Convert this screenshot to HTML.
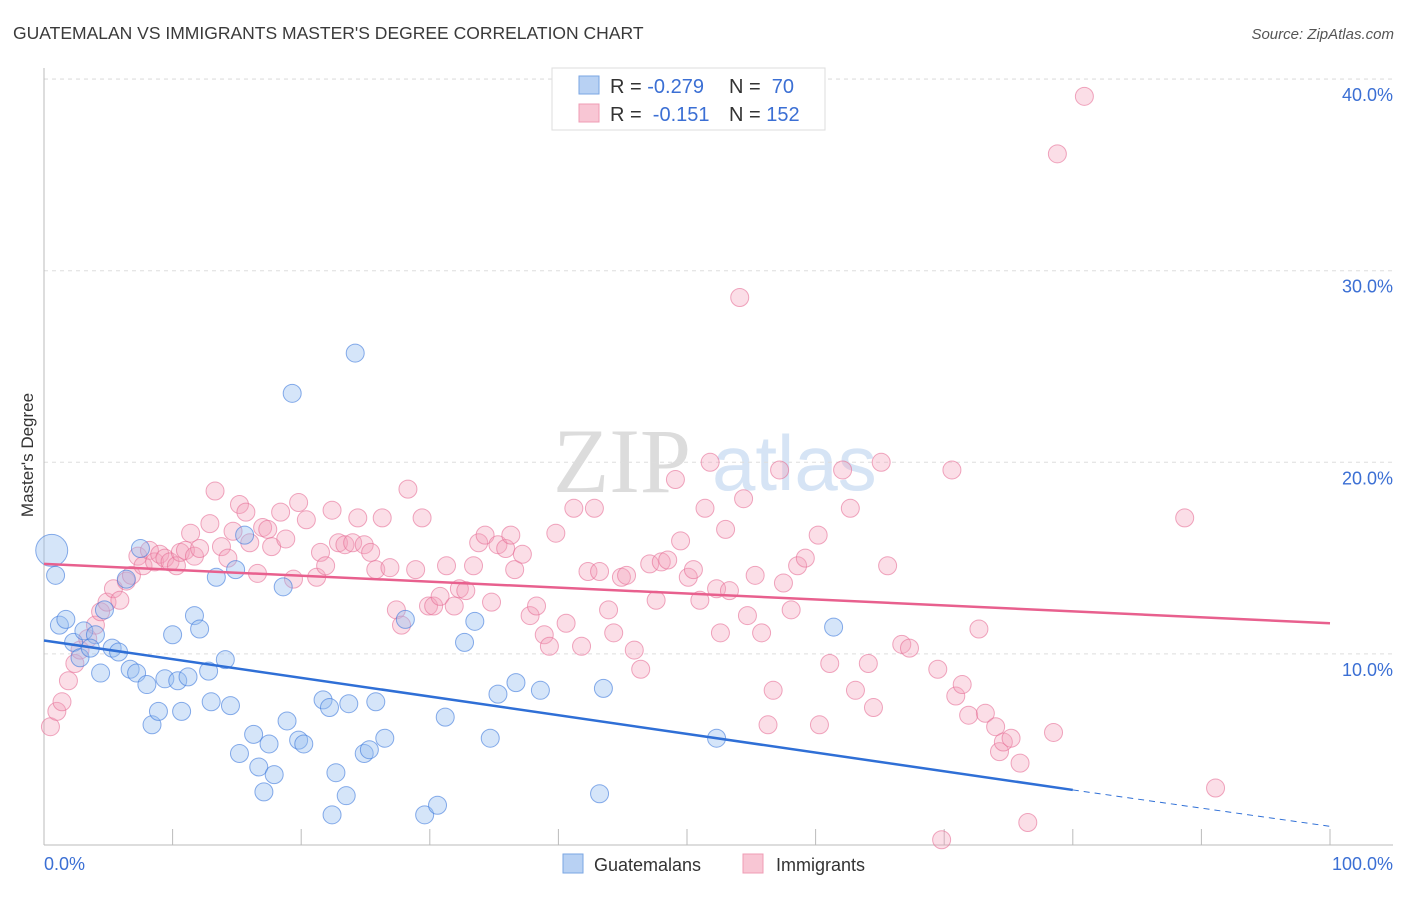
<!DOCTYPE html>
<html><head><meta charset="utf-8"><style>
body{margin:0;background:#fff;font-family:"Liberation Sans",sans-serif;}
svg text{font-family:"Liberation Sans",sans-serif;}
</style></head><body>
<svg id="chart" width="1406" height="892" xmlns="http://www.w3.org/2000/svg">
<text x="13" y="39" font-size="17.5" fill="#3a3a3a">GUATEMALAN VS IMMIGRANTS MASTER'S DEGREE CORRELATION CHART</text>
<text x="1394" y="39" font-size="15" fill="#555" font-style="italic" text-anchor="end">Source: ZipAtlas.com</text>
<g>
<text x="553" y="492" font-size="92" fill="#dcdcdc" style="font-family:'Liberation Serif',serif">ZIP</text>
<text x="712" y="490" font-size="78" fill="#d6e4f5">atlas</text>
</g>
<g id="grid"></g>
<g id="axes"></g>
<g id="pts"></g>
<g id="lines"></g>
<text transform="translate(33,455) rotate(-90)" font-size="17" fill="#333" text-anchor="middle">Master's Degree</text>
<g>
<rect x="552" y="68" width="273" height="62" fill="#fff" stroke="#ddd"/>
<rect x="579" y="76" width="20" height="18" fill="#b8d1f3" stroke="#7aa6e3"/>
<rect x="579" y="104" width="20" height="18" fill="#f8c6d4" stroke="#ef9cb5"/>
<text x="610" y="93" font-size="20" fill="#333">R = <tspan fill="#3b6fd4">-0.279</tspan></text>
<text x="729" y="93" font-size="20" fill="#333">N = <tspan fill="#3b6fd4">&#160;70</tspan></text>
<text x="610" y="121" font-size="20" fill="#333">R = <tspan fill="#3b6fd4">&#160;-0.151</tspan></text>
<text x="729" y="121" font-size="20" fill="#333">N = <tspan fill="#3b6fd4">152</tspan></text>
</g>
<g>
<rect x="563" y="854" width="20" height="19" fill="#b8d1f3" stroke="#7aa6e3"/>
<text x="594" y="871" font-size="18" fill="#333">Guatemalans</text>
<rect x="743" y="854" width="20" height="19" fill="#f8c6d4" stroke="#ef9cb5"/>
<text x="776" y="871" font-size="18" fill="#333">Immigrants</text>
</g>
</svg>
<script>
const yTicks=[10,20,30,40];
const yTickLabels=["10.0%","20.0%","30.0%","40.0%"];
const xLabels=["0.0%","100.0%"];
const blueX=[0.6,0.9,1.2,1.7,2.3,2.8,3.1,4.0,3.6,4.4,4.7,5.3,5.8,6.4,6.7,7.2,7.5,8.0,8.4,8.9,9.4,10.0,10.4,10.7,11.2,11.7,12.1,12.8,13.0,13.4,14.1,14.5,14.9,15.2,15.6,16.3,16.7,17.1,17.5,17.9,18.6,18.9,19.3,19.8,20.2,21.7,22.2,22.7,22.4,23.5,23.7,24.2,24.9,25.3,25.8,26.5,28.1,29.6,30.6,31.2,32.7,33.5,34.7,35.3,36.7,38.6,43.2,43.5,52.3,61.4];
const blueY=[15.4,14.1,11.5,11.8,10.6,9.8,11.2,11.0,10.3,9.0,12.3,10.3,10.1,13.9,9.2,9.0,15.5,8.4,6.3,7.0,8.7,11.0,8.6,7.0,8.8,12.0,11.3,9.1,7.5,14.0,9.7,7.3,14.4,4.8,16.2,5.8,4.1,2.8,5.3,3.7,13.5,6.5,23.6,5.5,5.3,7.6,7.2,3.8,1.6,2.6,7.4,25.7,4.8,5.0,7.5,5.6,11.8,1.6,2.1,6.7,10.6,11.7,5.6,7.9,8.5,8.1,2.7,8.2,5.6,11.4];
const pinkX=[0.5,1.0,1.4,1.9,2.4,2.8,3.4,4.0,4.4,4.9,5.4,5.9,6.4,6.8,7.3,7.7,8.2,8.6,9.0,9.4,9.8,10.3,10.6,11.0,11.4,11.7,12.1,12.9,13.3,13.8,14.3,14.7,15.2,15.7,16.0,16.6,17.0,17.4,17.7,18.4,18.8,19.4,19.8,20.4,21.2,21.5,21.9,22.4,22.9,23.4,24.0,24.4,24.9,25.4,25.8,26.3,26.9,27.4,27.8,28.3,28.9,29.4,29.9,30.3,30.8,31.3,31.9,32.3,32.8,33.4,33.8,34.3,34.8,35.3,35.9,36.3,36.6,37.2,37.8,38.3,38.9,39.3,39.8,40.6,41.2,41.8,42.3,42.8,43.2,43.9,44.3,44.9,45.3,45.9,46.4,47.1,47.6,48.0,48.5,49.1,49.5,50.1,50.5,51.0,51.4,51.8,52.3,52.6,53.0,53.3,54.1,54.4,54.7,55.3,55.8,56.3,56.7,57.2,57.5,58.1,58.6,59.2,60.2,60.3,61.1,62.1,62.7,63.1,64.1,64.5,65.1,65.6,66.7,67.3,69.5,69.8,70.6,70.9,71.4,71.9,73.2,74.0,74.3,74.6,75.2,75.9,76.5,78.5,78.8,80.9,88.7,91.1,72.7];
const pinkY=[6.2,7.0,7.5,8.6,9.5,10.2,10.8,11.5,12.2,12.7,13.4,12.8,13.8,14.1,15.1,14.6,15.4,14.8,15.2,15.0,14.8,14.6,15.3,15.4,16.3,15.1,15.5,16.8,18.5,15.6,15.0,16.4,17.8,17.4,15.8,14.2,16.6,16.5,15.6,17.4,16.0,13.9,17.9,17.0,14.0,15.3,14.6,17.5,15.8,15.7,15.8,17.1,15.7,15.3,14.4,17.1,14.5,12.3,11.5,18.6,14.4,17.1,12.5,12.5,13.0,14.6,12.5,13.4,13.3,14.6,15.8,16.2,12.7,15.7,15.5,16.2,14.4,15.2,12.0,12.5,11.0,10.4,16.3,11.6,17.6,10.4,14.3,17.6,14.3,12.3,11.1,14.0,14.1,10.2,9.2,14.7,12.8,14.8,14.9,19.1,15.9,14.0,14.4,12.8,17.6,20.0,13.4,11.1,16.5,13.3,28.6,18.1,12.0,14.1,11.1,6.3,8.1,19.6,13.7,12.3,14.6,15.0,16.2,6.3,9.5,19.6,17.6,8.1,9.5,7.2,20.0,14.6,10.5,10.3,9.2,0.3,19.6,7.8,8.4,6.8,6.9,6.2,4.9,5.4,5.6,4.3,1.2,5.9,36.1,39.1,17.1,3.0,11.3];
const blueTrend=[10.7,2.9,1.0]; // at x=0, 80, 100
const pinkTrend=[14.7,11.6];    // at x=0, 100

const X0=44,X1=1330,Y0=845.5,YPER=19.16;
const sx=v=>X0+(X1-X0)*v/100;
const sy=v=>Y0-v*YPER;
const NS="http://www.w3.org/2000/svg";
function mk(tag,attrs,parent){const e=document.createElementNS(NS,tag);for(const k in attrs)e.setAttribute(k,attrs[k]);document.getElementById(parent).appendChild(e);return e;}

yTicks.forEach((t,i)=>{
  const g=mk('line',{x1:44,x2:1393,y1:sy(t),y2:sy(t),stroke:'#ddd','stroke-dasharray':'4,4'},'grid');
  
  
  const tx=mk('text',{x:1393,y:sy(t)+22,'font-size':18,fill:'#3b6fd4','text-anchor':'end'},'axes');
  tx.textContent=yTickLabels[i];
  
  
});
const topGrid=mk('line',{x1:44,x2:1393,y1:79,y2:79,stroke:'#ddd','stroke-dasharray':'4,4'},'grid');


const ya=mk('line',{x1:44,x2:44,y1:68,y2:845,stroke:'#bbb'},'axes');


const xa=mk('line',{x1:44,x2:1393,y1:845,y2:845,stroke:'#bbb'},'axes');


for(let i=0;i<=10;i++){
  const t=mk('line',{x1:sx(i*10),x2:sx(i*10),y1:829,y2:845,stroke:'#bbb'},'axes');
  
  
}
[[0,'start',44],[100,'end',1393]].forEach((d,i)=>{
  const t=mk('text',{x:d[2],y:870,'font-size':18,fill:'#3b6fd4','text-anchor':d[1]},'axes');
  t.textContent=xLabels[i];
  
  
});
pinkX.forEach((x,i)=>{
  const c=mk('circle',{cx:sx(x),cy:sy(pinkY[i]),r:9,fill:'rgba(244,160,186,0.35)',stroke:'rgba(230,110,150,0.6)','stroke-width':1},'pts');
  
  
});
blueX.forEach((x,i)=>{
  const c=mk('circle',{cx:sx(x),cy:sy(blueY[i]),r:i===0?16:9,fill:'rgba(150,190,240,0.4)',stroke:'rgba(60,120,220,0.6)','stroke-width':1},'pts');
  
  
});
const bl=mk('line',{x1:sx(0),y1:sy(blueTrend[0]),x2:sx(80),y2:sy(blueTrend[1]),stroke:'#2f6fd6','stroke-width':2.5},'lines');


const bd=mk('line',{x1:sx(80),y1:sy(blueTrend[1]),x2:sx(100),y2:sy(blueTrend[2]),stroke:'#2f6fd6','stroke-width':1,'stroke-dasharray':'6,5'},'lines');


const pl=mk('line',{x1:sx(0),y1:sy(pinkTrend[0]),x2:sx(100),y2:sy(pinkTrend[1]),stroke:'#e8608e','stroke-width':2.5},'lines');


</script>
</body></html>
